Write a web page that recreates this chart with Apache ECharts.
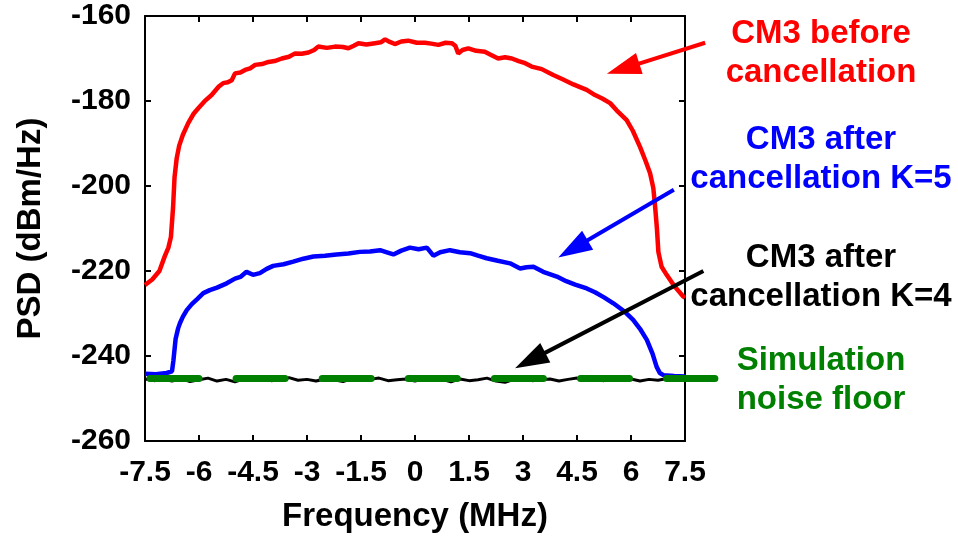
<!DOCTYPE html>
<html>
<head>
<meta charset="utf-8">
<script src="https://cdn.jsdelivr.net/npm/echarts@6/dist/echarts.min.js"></script>
<style>html,body{margin:0;padding:0;background:#fff;}#c{width:958px;height:539px;}</style>
</head>
<body>
<div id="c"></div>
<script>
// ---- data (MHz, dBm/Hz) ----
var xTicks = [-7.5, -6, -4.5, -3, -1.5, 0, 1.5, 3, 4.5, 6, 7.5];
var yTicks = [-260, -240, -220, -200, -180, -160];

var redFreq = [-7.5,-7.3,-7.1,-6.95,-6.85,-6.78,-6.72,-6.68,-6.62,-6.55,-6.45,-6.3,-6.15,-6.02,-5.85,-5.65,-5.45,-5.33,-5.2,-5.09,-5.0,-4.85,-4.72,-4.58,-4.44,-4.25,-4.07,-3.9,-3.7,-3.5,-3.33,-3.15,-2.96,-2.8,-2.69,-2.45,-2.22,-2.0,-1.85,-1.7,-1.57,-1.35,-1.11,-0.95,-0.83,-0.7,-0.56,-0.38,-0.19,0.05,0.28,0.45,0.65,0.85,1.02,1.12,1.2,1.32,1.48,1.7,1.94,2.1,2.31,2.5,2.69,2.88,3.06,3.24,3.52,3.84,4.1,4.4,4.6,4.77,5.0,5.2,5.42,5.6,5.88,6.05,6.25,6.4,6.53,6.62,6.67,6.72,6.76,6.85,6.99,7.2,7.45,7.5];
var redPSD = [-223.3,-222,-220,-216.5,-214.5,-212,-205,-198,-193.5,-190.5,-188,-185.2,-183.0,-181.7,-180.1,-178.6,-176.6,-175.8,-175.6,-175.1,-173.5,-173.3,-172.7,-172.3,-171.5,-171.3,-170.8,-170.6,-170.0,-169.6,-168.8,-168.9,-168.6,-168.0,-167.2,-167.5,-167.2,-167.3,-167.6,-167.0,-166.4,-166.7,-166.4,-166.2,-165.5,-166.1,-166.6,-166.0,-165.8,-166.3,-166.3,-166.5,-166.8,-166.3,-166.4,-167.0,-168.8,-168.0,-167.6,-168.2,-168.4,-169.1,-170.0,-169.7,-170.0,-170.6,-171.1,-171.9,-172.5,-173.9,-174.9,-176.1,-176.8,-177.4,-178.6,-179.4,-180.5,-182.2,-184.5,-187.0,-190.8,-194.0,-197,-200.5,-204.9,-210,-215.5,-219.0,-220.9,-223.5,-226.0,-226.3];

var blueFreq = [-7.5,-7.2,-6.9,-6.75,-6.71,-6.65,-6.58,-6.53,-6.45,-6.34,-6.2,-6.05,-5.88,-5.7,-5.5,-5.23,-5.0,-4.85,-4.68,-4.5,-4.31,-4.12,-3.94,-3.65,-3.38,-3.1,-2.82,-2.5,-2.18,-1.85,-1.53,-1.25,-0.97,-0.78,-0.6,-0.38,-0.14,0.1,0.33,0.51,0.7,0.97,1.25,1.53,1.75,1.99,2.3,2.64,2.92,3.1,3.29,3.56,3.94,4.2,4.45,4.77,5.0,5.25,5.51,5.8,6.06,6.25,6.44,6.6,6.71,6.8,6.9,7.2,7.5];
var bluePSD = [-244.2,-244.3,-244.0,-243.6,-241,-236,-233.5,-232.3,-230.8,-229.2,-227.8,-226.6,-225.2,-224.5,-223.9,-222.9,-221.8,-221.4,-220.2,-220.9,-220.5,-219.5,-218.8,-218.4,-217.8,-217.1,-216.6,-216.4,-216.1,-215.9,-215.5,-215.4,-215.1,-215.6,-216.1,-215.2,-214.5,-214.9,-214.5,-216.4,-215.6,-215.1,-215.6,-215.8,-216.4,-217.0,-217.6,-218.2,-219.4,-219.1,-219.0,-220.2,-221.3,-222.4,-223.2,-224.1,-225.0,-226.2,-227.6,-229.4,-231.5,-233.6,-236.2,-239.5,-242.5,-244,-244.5,-244.7,-244.8];

var blackFreq = [-7.5,-7.25,-7,-6.75,-6.5,-6.25,-6,-5.75,-5.5,-5.25,-5,-4.75,-4.5,-4.25,-4,-3.75,-3.5,-3.25,-3,-2.75,-2.5,-2.25,-2,-1.75,-1.5,-1.25,-1,-0.75,-0.5,-0.25,0,0.25,0.5,0.75,1,1.25,1.5,1.75,2,2.25,2.5,2.75,3,3.25,3.5,3.75,4,4.25,4.5,4.75,5,5.25,5.5,5.75,6,6.25,6.5,6.75,7,7.25,7.5];
var blackPSD = [-245.4,-245.8,-245.5,-245.9,-245.3,-246.0,-245.6,-245.2,-245.9,-245.5,
-246.1,-245.4,-245.7,-245.3,-245.8,-245.6,-245.1,-245.7,-245.5,-245.9,
-245.4,-245.6,-246.0,-245.3,-245.7,-245.5,-245.2,-245.8,-245.6,-245.4,
-245.9,-245.3,-245.7,-245.5,-246.1,-245.4,-245.8,-245.6,-245.2,-245.9,
-246.2,-245.5,-245.3,-245.8,-245.6,-245.4,-245.9,-245.5,-245.2,-245.7,
-245.5,-245.8,-245.3,-245.6,-245.4,-245.9,-245.5,-245.7,-245.3,-245.6,-245.5];

var noiseFreq = [-7.5, 8.33];
var noisePSD = [-245.3, -245.3];

// annotation arrows: [startX, startY, tipX, tipY] in data units
var redArrow = [8.06, -166.3, 5.33, -173.6];
var blueArrow = [7.19, -200.9, 3.98, -216.8];
var blackArrow = [8.01, -220.0, 2.78, -242.9];

var labels = ["CM3 before\ncancellation", "CM3 after\ncancellation K=5", "CM3 after\ncancellation K=4", "Simulation\nnoise floor"];

function zip(a, b) { var r = []; for (var i = 0; i < Math.min(a.length, b.length); i++) r.push([a[i], b[i]]); return r; }

var FONT = "'Liberation Sans', Arial, sans-serif";
var chart = echarts.init(document.getElementById('c'), null, {renderer: 'canvas'});

var axisLineStyle = {color: '#000', width: 2};
var option = {
  animation: false,
  backgroundColor: '#fff',
  grid: {left: 145, right: 273, top: 16, bottom: 98, containLabel: false},
  xAxis: [{
    type: 'value', min: -7.5, max: 7.5, interval: 1.5, position: 'bottom',
    axisLine: {show: true, onZero: false, lineStyle: axisLineStyle},
    axisTick: {show: true, inside: true, length: 6, lineStyle: {width: 2, color: '#000'}},
    splitLine: {show: false},
    axisLabel: {margin: 17, fontSize: 30, fontWeight: 'bold', color: '#000', fontFamily: FONT,
      showMinLabel: true, showMaxLabel: true},
    name: 'Frequency (MHz)', nameLocation: 'middle', nameGap: 59,
    nameTextStyle: {fontSize: 33, fontWeight: 'bold', color: '#000', fontFamily: FONT}
  }, {
    type: 'value', min: -7.5, max: 7.5, interval: 1.5, position: 'top',
    axisLine: {show: true, onZero: false, lineStyle: axisLineStyle},
    axisTick: {show: true, inside: true, length: 6, lineStyle: {width: 2, color: '#000'}},
    splitLine: {show: false}, axisLabel: {show: false}
  }],
  yAxis: [{
    type: 'value', min: -260, max: -160, interval: 20, position: 'left',
    axisLine: {show: true, onZero: false, lineStyle: axisLineStyle},
    axisTick: {show: true, inside: true, length: 6, lineStyle: {width: 2, color: '#000'}},
    splitLine: {show: false},
    axisLabel: {margin: 14, fontSize: 30, fontWeight: 'bold', color: '#000', fontFamily: FONT},
    name: 'PSD (dBm/Hz)', nameLocation: 'middle', nameGap: 98, nameRotate: 90,
    nameTextStyle: {fontSize: 33, fontWeight: 'bold', color: '#000', fontFamily: FONT}
  }, {
    type: 'value', min: -260, max: -160, interval: 20, position: 'right',
    axisLine: {show: true, onZero: false, lineStyle: axisLineStyle},
    axisTick: {show: true, inside: true, length: 6, lineStyle: {width: 2, color: '#000'}},
    splitLine: {show: false}, axisLabel: {show: false}
  }],
  series: [
    {type: 'line', name: 'red', data: zip(redFreq, redPSD), symbol: 'none', clip: false,
      lineStyle: {color: '#ff0000', width: 4.5}, z: 2},
    {type: 'line', name: 'blue', data: zip(blueFreq, bluePSD), symbol: 'none', clip: false,
      lineStyle: {color: '#0000ff', width: 4.5}, z: 3},
    {type: 'line', name: 'black', data: zip(blackFreq, blackPSD), symbol: 'none', clip: false,
      lineStyle: {color: '#000000', width: 3}, z: 4}
  ]
};
chart.setOption(option);

function px(p) { return chart.convertToPixel({xAxisIndex: 0, yAxisIndex: 0}, p); }

function arrowGraphic(a, color) {
  var s = px([a[0], a[1]]);
  var t = px([a[2], a[3]]);
  var dx = t[0] - s[0], dy = t[1] - s[1];
  var L = Math.sqrt(dx * dx + dy * dy);
  var ux = dx / L, uy = dy / L;
  var headLen = 34, halfW = 11;
  var bx = t[0] - ux * headLen, by = t[1] - uy * headLen;
  var qx = -uy, qy = ux;
  return [
    {type: 'line', shape: {x1: s[0], y1: s[1], x2: bx + ux * 2, y2: by + uy * 2},
      style: {stroke: color, lineWidth: 4}, z: 10},
    {type: 'polygon', shape: {points: [[t[0], t[1]], [bx + qx * halfW, by + qy * halfW], [bx - qx * halfW, by - qy * halfW]]},
      style: {fill: color}, z: 10}
  ];
}

function label(text, cx, cy, color) {
  return {type: 'text', x: cx, y: cy, z: 10,
    style: {text: text, fill: color, font: 'bold 33px ' + FONT, align: 'center', verticalAlign: 'middle', lineHeight: 39}};
}

var g = [];
// simulation noise floor: thick dashed green line (extends past the axes box)
var noisePts = zip(noiseFreq, noisePSD).map(px);
g.push({type: 'polyline', shape: {points: noisePts}, z: 9,
  style: {stroke: '#008000', lineWidth: 7, lineCap: 'round', lineDash: [49, 37.1], lineDashOffset: -5, fill: null}});
g = g.concat(arrowGraphic(redArrow, '#ff0000'));
g = g.concat(arrowGraphic(blueArrow, '#0000ff'));
g = g.concat(arrowGraphic(blackArrow, '#000000'));
g.push(label(labels[0], 821, 53, '#ff0000'));
g.push(label(labels[1], 821, 159, '#0000ff'));
g.push(label(labels[2], 821, 277, '#000000'));
g.push(label(labels[3], 821, 380, '#008000'));
chart.setOption({graphic: g});
</script>
</body>
</html>
